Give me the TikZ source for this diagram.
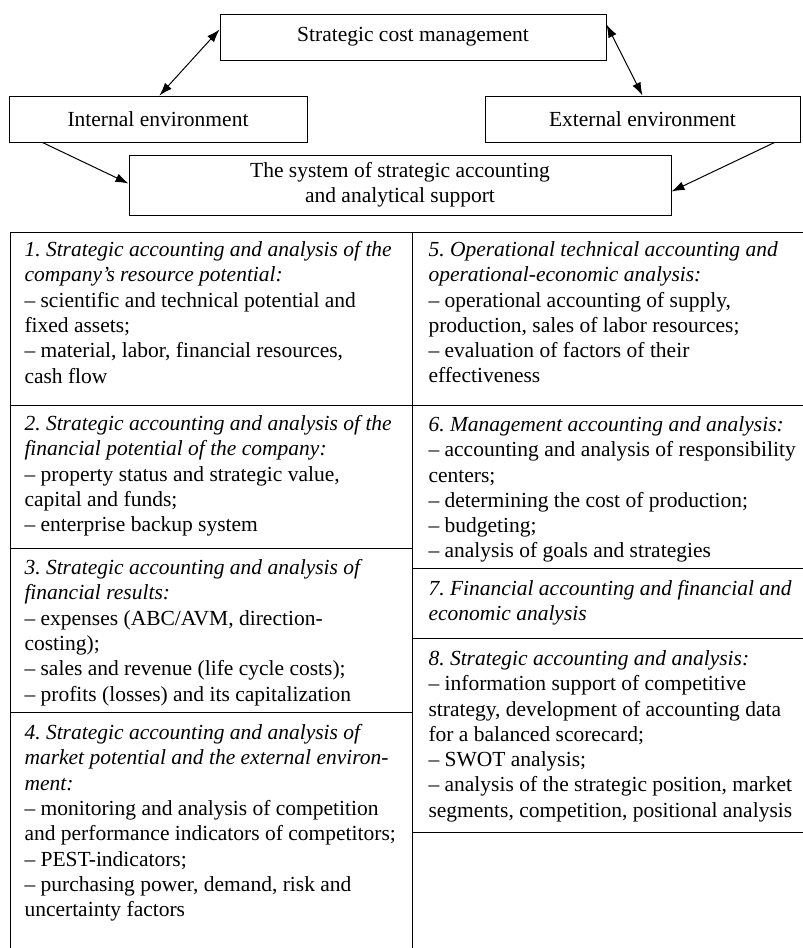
\documentclass[tikz,border=0pt]{standalone}
\usepackage{fontspec}
\setmainfont{Liberation Serif}
\usetikzlibrary{arrows.meta}
\frenchspacing

\begin{document}
\begin{tikzpicture}[x=1pt,y=-1pt,line width=1pt,
  box/.style={draw,minimum height=46pt,inner sep=0pt,align=center,
    font=\fontsize{21.5}{25}\selectfont},
  cell/.style={anchor=north west,inner sep=0pt,align=left,
    font=\fontsize{21.5}{25.3}\selectfont},
  link/.style={line width=1pt,-{Latex[length=13pt,width=9pt]}},
  dlink/.style={line width=1pt,{Latex[length=13pt,width=9pt]}-{Latex[length=13pt,width=9pt]}}]
\useasboundingbox (0,0) rectangle (803,948);

% upper scheme
\node[box,minimum width=386pt] (scm) at (413,37){Strategic cost management};
\node[box,minimum width=298pt] (int) at (158,119){Internal environment};
\node[box,minimum width=315pt] (ext) at (642.5,119){External environment};
\node[box,minimum width=542pt,minimum height=60pt] (sys) at (400,185)
  {The system of strategic accounting\\and analytical support};
\draw[dlink] ([xshift=151pt]int.north west) -- ([yshift=-16pt]scm.north west);
\draw[dlink] ([yshift=-11pt]scm.north east) -- ([xshift=158pt]ext.north west);
\draw[link] ([xshift=34pt]int.south west) -- ([yshift=-29pt]sys.north west);
\draw[link] ([xshift=-26pt]ext.south east) -- ([yshift=-37pt]sys.north east);

% table
\draw (10,948) -- (10,232) -- (803,232);
\draw (412,232) -- (412,948);
\draw (10,405) -- (803,405);
\draw (10,548) -- (412,548);
\draw (10,712) -- (412,712);
\draw (412,568) -- (803,568);
\draw (412,638) -- (803,638);
\draw (412,832) -- (803,832);

\node[cell] (c1) at (24,241){\textit{1. Strategic accounting and analysis of the}\\
  \textit{company’s resource potential:}\\
  – scientific and technical potential and\\
  fixed assets;\\
  – material, labor, financial resources,\\
  cash flow};
\node[cell] (c2) at (24,415){\textit{2. Strategic accounting and analysis of the}\\
  \textit{financial potential of the company:}\\
  – property status and strategic value,\\
  capital and funds;\\
  – enterprise backup system};
\node[cell] (c3) at (24,559){\textit{3. Strategic accounting and analysis of}\\
  \textit{financial results:}\\
  – expenses (ABC/AVM, direction-\\
  costing);\\
  – sales and revenue (life cycle costs);\\
  – profits (losses) and its capitalization};
\node[cell] (c4) at (24,724){\textit{4. Strategic accounting and analysis of}\\
  \textit{market potential and the external environ-}\\
  \textit{ment:}\\
  – monitoring and analysis of competition\\
  and performance indicators of competitors;\\
  – PEST-indicators;\\
  – purchasing power, demand, risk and\\
  uncertainty factors};
\node[cell] (c5) at (428,241){\textit{5. Operational technical accounting and}\\
  \textit{operational-economic analysis:}\\
  – operational accounting of supply,\\
  production, sales of labor resources;\\
  – evaluation of factors of their\\
  effectiveness};
\node[cell] (c6) at (428,416){\textit{6. Management accounting and analysis:}\\
  – accounting and analysis of responsibility\\
  centers;\\
  – determining the cost of production;\\
  – budgeting;\\
  – analysis of goals and strategies};
\node[cell] (c7) at (428,580){\textit{7. Financial accounting and financial and}\\
  \textit{economic analysis}};
\node[cell] (c8) at (428,650){\textit{8. Strategic accounting and analysis:}\\
  – information support of competitive\\
  strategy, development of accounting data\\
  for a balanced scorecard;\\
  – SWOT analysis;\\
  – analysis of the strategic position, market\\
  segments, competition, positional analysis};
\end{tikzpicture}
\end{document}
